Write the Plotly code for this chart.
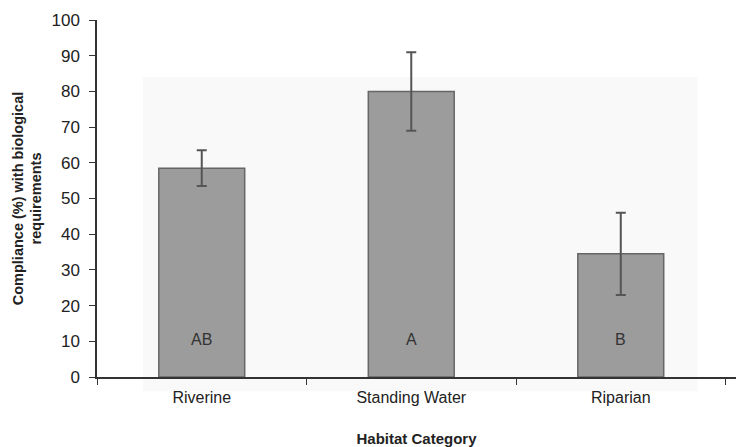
import plotly.graph_objects as go

categories = ["Riverine", "Standing Water", "Riparian"]
compliance = [58.5, 80.0, 34.5]
error_sd = [5.0, 11.0, 11.5]
group_letters = ["AB", "A", "B"]
letter_y = [10.5, 10.5, 10.5]
y_ticks = [0, 10, 20, 30, 40, 50, 60, 70, 80, 90, 100]

FONT = "Liberation Sans, Arial, sans-serif"
TXT = "#222222"

fig = go.Figure()
fig.add_trace(go.Bar(
    x=categories, y=compliance,
    marker=dict(color="#9c9c9c", line=dict(color="#666666", width=1.5)),
    error_y=dict(type="data", array=error_sd, visible=True,
                 color="#555555", thickness=2, width=5),
    showlegend=False,
))

for c, t, yy in zip(categories, group_letters, letter_y):
    fig.add_annotation(x=c, y=yy, text=t, showarrow=False,
                       font=dict(family=FONT, size=16, color="#333333"))

# faint scan-like plot background
fig.add_shape(type="rect", xref="paper", yref="paper",
              x0=0.072, x1=0.94, y0=-0.04, y1=0.84,
              fillcolor="#f9f9f9", line=dict(width=0), layer="below")

fig.update_layout(
    width=736, height=447,
    margin=dict(l=97, r=0, t=20, b=70),
    paper_bgcolor="white", plot_bgcolor="rgba(0,0,0,0)",
    bargap=0.59,
    font=dict(family=FONT, color=TXT),
    xaxis=dict(
        type="category", range=[-0.5, 2.55],
        showline=True, linecolor="#333333", linewidth=1.5,
        ticks="outside", tickson="boundaries", ticklen=6, tickwidth=1.2,
        tickcolor="#333333", showgrid=False, zeroline=False,
        ticklabelstandoff=5,
        tickfont=dict(family=FONT, size=16, color=TXT),
        title=dict(text="<b>Habitat Category</b>", standoff=29,
                   font=dict(family=FONT, size=15, color=TXT)),
    ),
    yaxis=dict(
        range=[0, 100], tickvals=y_ticks,
        showline=True, linecolor="#333333", linewidth=1.5,
        ticks="outside", ticklen=6, tickwidth=1.2, tickcolor="#333333",
        showgrid=False, zeroline=False, ticklabelstandoff=6,
        tickfont=dict(family=FONT, size=17, color=TXT),
        title=dict(text="<b>Compliance (%) with biological<br>requirements</b>",
                   standoff=6, font=dict(family=FONT, size=14.5, color=TXT)),
    ),
)

fig.write_html("out.html")
